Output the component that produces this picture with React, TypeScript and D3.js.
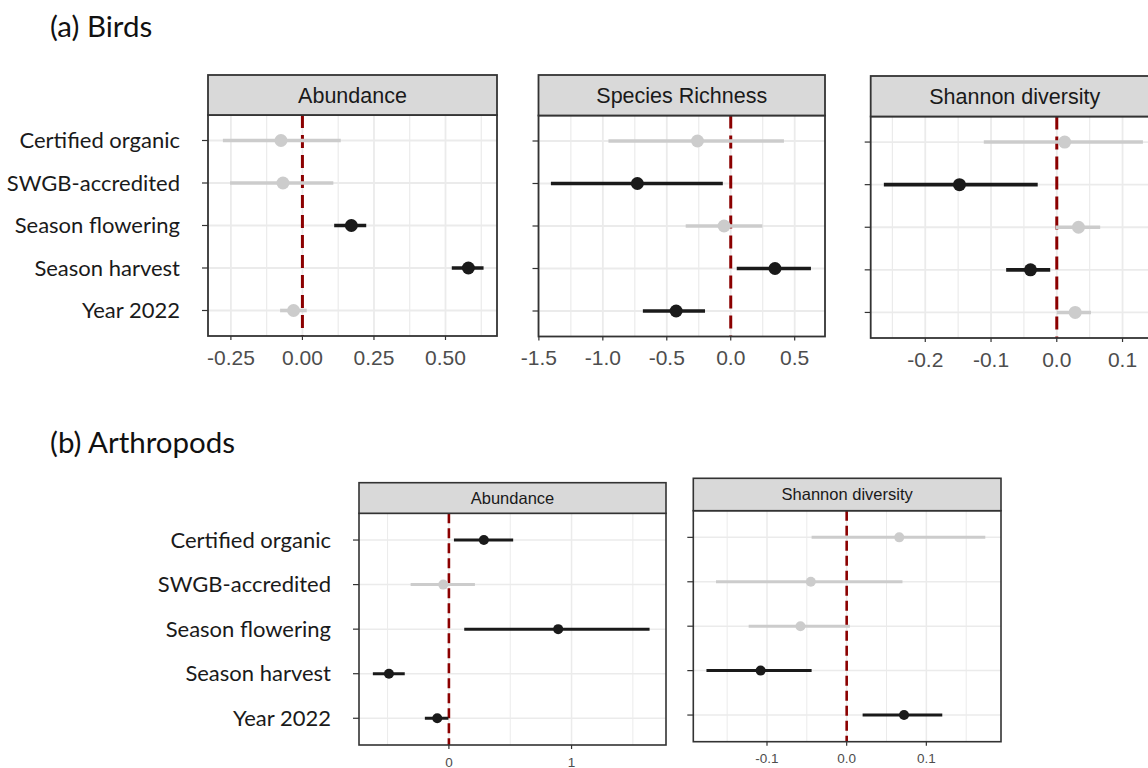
import React from "react";
import * as d3 from "d3";

// Model terms (rows, top to bottom)
const terms = [
  "Certified organic",
  "SWGB-accredited",
  "Season flowering",
  "Season harvest",
  "Year 2022",
];

// (a) Birds — Abundance
const birdAbundEst = [-0.075, -0.068, 0.171, 0.58, -0.031];
const birdAbundLo = [-0.278, -0.253, 0.111, 0.522, -0.078];
const birdAbundHi = [0.134, 0.108, 0.223, 0.633, 0.015];
const birdAbundSig = [false, false, true, true, false];

// (a) Birds — Species Richness
const birdRichEst = [-0.26, -0.73, -0.052, 0.346, -0.427];
const birdRichLo = [-0.956, -1.406, -0.352, 0.047, -0.687];
const birdRichHi = [0.416, -0.062, 0.247, 0.627, -0.201];
const birdRichSig = [false, true, false, true, true];

// (a) Birds — Shannon diversity
const birdShanEst = [0.012, -0.148, 0.033, -0.04, 0.028];
const birdShanLo = [-0.111, -0.263, -0.002, -0.077, 0.0];
const birdShanHi = [0.131, -0.029, 0.066, -0.01, 0.052];
const birdShanSig = [false, true, false, true, false];

// (b) Arthropods — Abundance
const arthAbundEst = [0.285, -0.046, 0.891, -0.489, -0.095];
const arthAbundLo = [0.041, -0.312, 0.125, -0.62, -0.196];
const arthAbundHi = [0.524, 0.212, 1.636, -0.36, -0.004];
const arthAbundSig = [true, false, true, true, true];

// (b) Arthropods — Shannon diversity
const arthShanEst = [0.066, -0.045, -0.058, -0.108, 0.072];
const arthShanLo = [-0.044, -0.164, -0.123, -0.176, 0.02];
const arthShanHi = [0.174, 0.07, 0.004, -0.044, 0.12];
const arthShanSig = [false, false, false, true, true];

// Axis tick values
const birdAbundTicks = [-0.25, 0, 0.25, 0.5];
const birdAbundMinor = [-0.125, 0.125, 0.375, 0.625];
const birdRichTicks = [-1.5, -1.0, -0.5, 0, 0.5];
const birdRichMinor = [-1.25, -0.75, -0.25, 0.25];
const birdShanTicks = [-0.2, -0.1, 0, 0.1];
const birdShanMinor = [-0.25, -0.15, -0.05, 0.05, 0.15];
const arthAbundTicks = [0, 1];
const arthAbundMinor = [-0.5, 0.5, 1.5];
const arthShanTicks = [-0.1, 0, 0.1];
const arthShanMinor = [-0.15, -0.05, 0.05, 0.15];

const SIG = "#1a1a1a";
const NS = "#cccccc";
const LABEL_FONT = "Lato, 'Open Sans', sans-serif";
const AXIS_FONT = "'Liberation Sans', Arial, sans-serif";

type PanelProps = {
  title: string;
  est: number[];
  lo: number[];
  hi: number[];
  sig: boolean[];
  domain: [number, number];
  ticks: number[];
  minor: number[];
  fmt: (v: number) => string;
  x0: number;
  x1: number;
  stripTop: number;
  stripBottom: number;
  bottom: number;
  showLabels: boolean;
  big: boolean;
};

function Panel(p: PanelProps) {
  const x = d3.scaleLinear().domain(p.domain).range([p.x0, p.x1]);
  const y = d3
    .scalePoint<string>()
    .domain(terms)
    .range([p.stripBottom, p.bottom])
    .padding(0.6);

  const s = p.big
    ? { strip: 21.5, tick: 21, tickOff: 28.5, r: 6.5, lw: 3.6, dash: "13,7", dlw: 3, gMaj: 1.8, gMin: 1.2, lab: 22, border: 1.8 }
    : { strip: 16.5, tick: 13.5, tickOff: 21.5, r: 5, lw: 3, dash: "10,5", dlw: 2.6, gMaj: 1.5, gMin: 1, lab: 22, border: 1.6 };

  const clipId = `clip-${p.title.replace(/\s/g, "")}-${Math.round(p.x0)}`;
  return (
    <g>
      <defs>
        <clipPath id={clipId}>
          <rect x={p.x0} y={p.stripBottom} width={p.x1 - p.x0} height={p.bottom - p.stripBottom} />
        </clipPath>
      </defs>
      {/* panel background */}
      <rect x={p.x0} y={p.stripBottom} width={p.x1 - p.x0} height={p.bottom - p.stripBottom} fill="#ffffff" />
      <g clipPath={`url(#${clipId})`}>
        {p.minor.map((v) => (
          <line key={"mn" + v} x1={x(v)} x2={x(v)} y1={p.stripBottom} y2={p.bottom} stroke="#ebebeb" strokeWidth={s.gMin} />
        ))}
        {p.ticks.map((v) => (
          <line key={"mj" + v} x1={x(v)} x2={x(v)} y1={p.stripBottom} y2={p.bottom} stroke="#ebebeb" strokeWidth={s.gMaj} />
        ))}
        {terms.map((t) => (
          <line key={"h" + t} x1={p.x0} x2={p.x1} y1={y(t)} y2={y(t)} stroke="#ebebeb" strokeWidth={s.gMaj} />
        ))}
        {/* zero reference */}
        <line x1={x(0)} x2={x(0)} y1={p.stripBottom} y2={p.bottom} stroke="#8b0000" strokeWidth={s.dlw} strokeDasharray={s.dash} />
        {/* estimates with intervals, grey ones first */}
        {terms
          .map((t, i) => ({ t, i }))
          .sort((a, b) => Number(p.sig[a.i]) - Number(p.sig[b.i]))
          .map(({ t, i }) => {
            const c = p.sig[i] ? SIG : NS;
            return (
              <g key={"pt" + t}>
                <line x1={x(p.lo[i])} x2={x(p.hi[i])} y1={y(t)} y2={y(t)} stroke={c} strokeWidth={s.lw} />
                <circle cx={x(p.est[i])} cy={y(t)} r={s.r} fill={c} />
              </g>
            );
          })}
      </g>
      {/* panel border */}
      <rect x={p.x0} y={p.stripBottom} width={p.x1 - p.x0} height={p.bottom - p.stripBottom} fill="none" stroke="#333333" strokeWidth={s.border} />
      {/* strip */}
      <rect x={p.x0} y={p.stripTop} width={p.x1 - p.x0} height={p.stripBottom - p.stripTop} fill="#d9d9d9" stroke="#333333" strokeWidth={s.border} />
      <text
        x={(p.x0 + p.x1) / 2}
        y={(p.stripTop + p.stripBottom) / 2}
        dy="0.36em"
        textAnchor="middle"
        fontFamily={AXIS_FONT}
        fontSize={s.strip}
        fill="#1a1a1a"
      >
        {p.title}
      </text>
      {/* x axis */}
      {p.ticks.map((v) => (
        <g key={"xt" + v}>
          <line x1={x(v)} x2={x(v)} y1={p.bottom} y2={p.bottom + 4} stroke="#333333" strokeWidth={1.2} />
          <text x={x(v)} y={p.bottom + s.tickOff} textAnchor="middle" fontFamily={AXIS_FONT} fontSize={s.tick} fill="#4d4d4d">
            {p.fmt(v)}
          </text>
        </g>
      ))}
      {/* y axis */}
      {terms.map((t) => (
        <g key={"yt" + t}>
          <line x1={p.x0 - 6} x2={p.x0} y1={y(t)} y2={y(t)} stroke="#333333" strokeWidth={1.2} />
          {p.showLabels && (
            <text x={p.x0 - 28} y={y(t)} dy="0.35em" textAnchor="end" fontFamily={LABEL_FONT} fontSize={s.lab} fill="#1a1a1a">
              {t}
            </text>
          )}
        </g>
      ))}
    </g>
  );
}

const f2 = d3.format(".2f");
const f1 = d3.format(".1f");
const f0 = d3.format("d");
const minusFix = (f: (v: number) => string) => (v: number) => f(v).replace("\u2212", "-");

export default function App() {
  return (
    <svg
      width={1148}
      height={768}
      style={{ position: "absolute", left: 0, top: 0, background: "#ffffff" }}
    >
      <text x={50} y={37} fontFamily={LABEL_FONT} fontSize={29.5} fill="#111111">
        (a) Birds
      </text>
      <text x={50} y={453} fontFamily={LABEL_FONT} fontSize={29.5} fill="#111111">
        (b) Arthropods
      </text>

      <Panel
        title="Abundance"
        est={birdAbundEst}
        lo={birdAbundLo}
        hi={birdAbundHi}
        sig={birdAbundSig}
        domain={[-0.33, 0.68]}
        ticks={birdAbundTicks}
        minor={birdAbundMinor}
        fmt={minusFix(f2)}
        x0={208}
        x1={497}
        stripTop={75}
        stripBottom={115}
        bottom={336}
        showLabels={true}
        big={true}
      />
      <Panel
        title="Species Richness"
        est={birdRichEst}
        lo={birdRichLo}
        hi={birdRichHi}
        sig={birdRichSig}
        domain={[-1.503, 0.737]}
        ticks={birdRichTicks}
        minor={birdRichMinor}
        fmt={minusFix(f1)}
        x0={538.5}
        x1={825}
        stripTop={75}
        stripBottom={115.5}
        bottom={336.5}
        showLabels={false}
        big={true}
      />
      <Panel
        title="Shannon diversity"
        est={birdShanEst}
        lo={birdShanLo}
        hi={birdShanHi}
        sig={birdShanSig}
        domain={[-0.283, 0.155]}
        ticks={birdShanTicks}
        minor={birdShanMinor}
        fmt={minusFix(f1)}
        x0={870.7}
        x1={1158.7}
        stripTop={76}
        stripBottom={116.5}
        bottom={338}
        showLabels={false}
        big={true}
      />
      <Panel
        title="Abundance"
        est={arthAbundEst}
        lo={arthAbundLo}
        hi={arthAbundHi}
        sig={arthAbundSig}
        domain={[-0.733, 1.77]}
        ticks={arthAbundTicks}
        minor={arthAbundMinor}
        fmt={minusFix(f0)}
        x0={359}
        x1={666}
        stripTop={482.7}
        stripBottom={513.3}
        bottom={745}
        showLabels={true}
        big={false}
      />
      <Panel
        title="Shannon diversity"
        est={arthShanEst}
        lo={arthShanLo}
        hi={arthShanHi}
        sig={arthShanSig}
        domain={[-0.1925, 0.1937]}
        ticks={arthShanTicks}
        minor={arthShanMinor}
        fmt={minusFix(f1)}
        x0={693.3}
        x1={1001}
        stripTop={478.3}
        stripBottom={510.7}
        bottom={741.7}
        showLabels={false}
        big={false}
      />
    </svg>
  );
}
